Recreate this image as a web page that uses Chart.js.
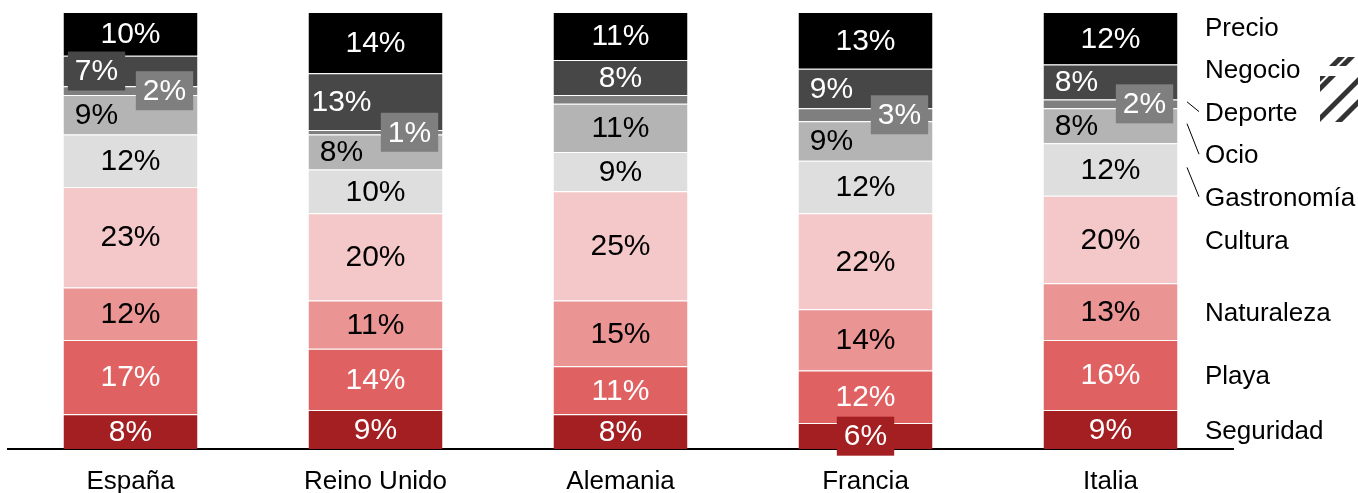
<!DOCTYPE html>
<html>
<head>
<meta charset="utf-8">
<script src="https://cdn.jsdelivr.net/npm/chart.js@4"></script>
<style>
  html, body { margin: 0; padding: 0; background: #fff; }
  #wrap { width: 1358px; height: 493px; }
</style>
</head>
<body>
<div id="wrap"><canvas id="motivosChart" width="1358" height="493"></canvas></div>
<script>
var categories = ['España', 'Reino Unido', 'Alemania', 'Francia', 'Italia'];
var seguridad = [8, 9, 8, 6, 9];
var playa = [17, 14, 11, 12, 16];
var naturaleza = [12, 11, 15, 14, 13];
var cultura = [23, 20, 25, 22, 20];
var gastronomia = [12, 10, 9, 12, 12];
var ocio = [9, 8, 11, 9, 8];
var deporte = [2, 1, 2, 3, 2];
var negocio = [7, 13, 8, 9, 8];
var precio = [10, 14, 11, 13, 12];
// la etiqueta de Deporte no aparece en Alemania
var deporteVisible = [true, true, false, true, true];

var FONT = "'Liberation Sans', Arial, sans-serif";

var series = [
    { label: 'Seguridad', data: seguridad, color: '#a31f22', text: '#fff' },
    { label: 'Playa', data: playa, color: '#e06162', text: '#fff' },
    { label: 'Naturaleza', data: naturaleza, color: '#ea9494', text: '#000' },
    { label: 'Cultura', data: cultura, color: '#f4c8c9', text: '#000' },
    { label: 'Gastronomía', data: gastronomia, color: '#dedede', text: '#000' },
    { label: 'Ocio', data: ocio, color: '#b4b4b4', text: '#000' },
    { label: 'Deporte', data: deporte, color: '#7f7f7f', text: '#fff' },
    { label: 'Negocio', data: negocio, color: '#474747', text: '#fff' },
    { label: 'Precio', data: precio, color: '#000000', text: '#fff' }
];

// etiquetas de porcentaje, leyenda a la derecha y el logo rayado
var etiquetasPlugin = {
    id: 'etiquetas',
    afterDatasetsDraw: function(chart) {
        var ctx = chart.ctx;
        ctx.save();
        ctx.font = '30px ' + FONT;
        ctx.textAlign = 'center';
        ctx.textBaseline = 'middle';
        chart.data.datasets.forEach(function(ds, di) {
            var meta = chart.getDatasetMeta(di);
            meta.data.forEach(function(bar, i) {
                var name = ds.label;
                if (name === 'Deporte' && !deporteVisible[i]) return;
                var x = bar.x;
                var y = (bar.y + bar.base) / 2;
                if (deporteVisible[i]) {
                    if (name === 'Deporte') x += 34;
                    if (name === 'Negocio' || name === 'Ocio') x -= 34;
                }
                var txt = ds.data[i] + '%';
                if (ds.data[i] <= 7) {
                    var w = ctx.measureText(txt).width + 14;
                    ctx.fillStyle = ds.backgroundColor;
                    ctx.fillRect(x - w / 2, y - 19.5, w, 39);
                }
                ctx.fillStyle = ds.textColor;
                ctx.fillText(txt, x, y + 1);
            });
        });

        // leyenda
        var last = chart.getDatasetMeta(0).data.length - 1;
        var lx = 1205;
        var ys = [];
        chart.data.datasets.forEach(function(ds, di) {
            var bar = chart.getDatasetMeta(di).data[last];
            ys[di] = (bar.y + bar.base) / 2;
        });
        var labelY = ys.slice();
        for (var k = 4; k < labelY.length; k++) {
            labelY[k] = labelY[3] - (k - 3) * 42.6;
        }
        ctx.font = '26px ' + FONT;
        ctx.textAlign = 'left';
        ctx.fillStyle = '#000';
        chart.data.datasets.forEach(function(ds, di) {
            ctx.fillText(ds.label, lx, labelY[di] + 2);
        });
        // líneas guía
        ctx.strokeStyle = '#000';
        ctx.lineWidth = 1;
        [4, 5, 6].forEach(function(di) {
            ctx.beginPath();
            ctx.moveTo(1187, ys[di] - 2);
            ctx.lineTo(1199, labelY[di]);
            ctx.stroke();
        });

        // logo rayado arriba a la derecha
        ctx.fillStyle = '#333';
        ctx.save();
        ctx.beginPath();
        ctx.rect(1320, 57, 40, 9);
        ctx.rect(1320, 76, 40, 46);
        ctx.clip();
        [1393, 1403, 1433, 1455].forEach(function(c) {
            ctx.beginPath();
            ctx.moveTo(c - 120, 122);
            ctx.lineTo(c - 120 + 7, 122);
            ctx.lineTo(c - 120 + 7 + 80, 42);
            ctx.lineTo(c - 120 + 80, 42);
            ctx.closePath();
            ctx.fill();
        });
        ctx.restore();
        ctx.restore();
    }
};

var ctx = document.getElementById('motivosChart').getContext('2d');
var chart = new Chart(ctx, {
    type: 'bar',
    data: {
        labels: categories,
        datasets: series.map(function(s) {
            return {
                label: s.label,
                data: s.data,
                backgroundColor: s.color,
                borderColor: '#ffffff',
                borderWidth: { top: 1, bottom: 1, left: 0, right: 0 },
                borderSkipped: 'start',
                textColor: s.text,
                barPercentage: 0.547,
                categoryPercentage: 1
            };
        })
    },
    options: {
        responsive: false,
        animation: false,
        layout: {
            padding: { left: 8, right: 125, top: 12, bottom: -21.5 }
        },
        plugins: {
            legend: { display: false },
            tooltip: { enabled: false }
        },
        scales: {
            x: {
                stacked: true,
                grid: { display: false, drawTicks: false },
                border: { display: true, color: '#000', width: 2 },
                ticks: {
                    color: '#000',
                    padding: 17,
                    font: { size: 26, family: FONT }
                }
            },
            y: {
                stacked: true,
                display: false,
                min: 0,
                max: 100
            }
        }
    },
    plugins: [etiquetasPlugin]
});
</script>
</body>
</html>
